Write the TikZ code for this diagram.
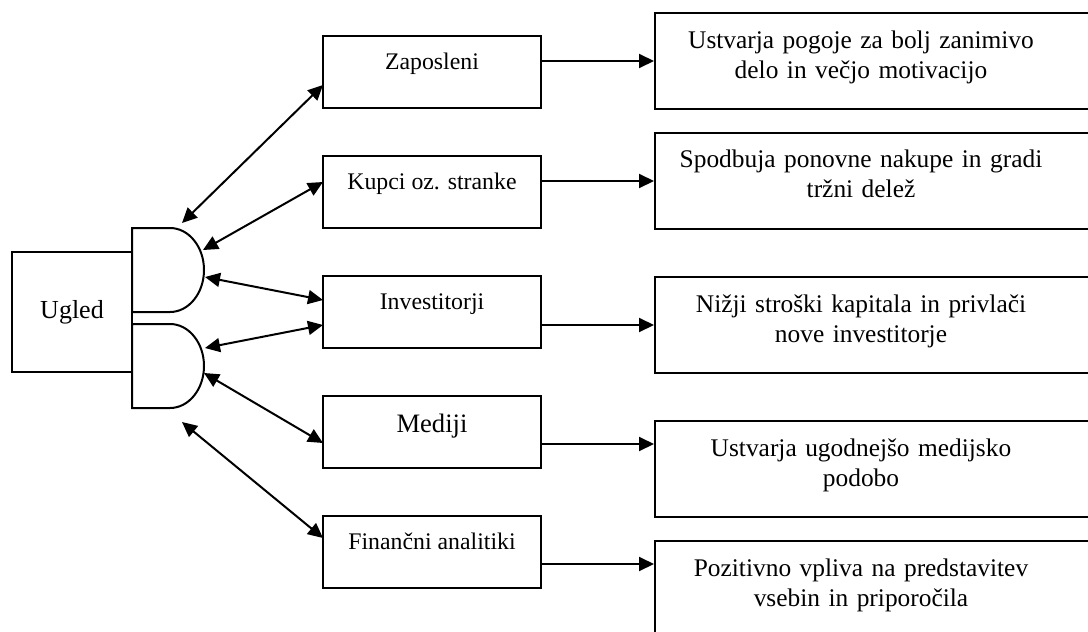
\documentclass[tikz,border=0pt]{standalone}
\usepackage{fontspec}
\setmainfont{Liberation Serif}
\usetikzlibrary{positioning,arrows.meta}

\begin{document}
\begin{tikzpicture}[x=1pt, y=-1pt, line width=2pt,
    ena/.style={-{Triangle[length=15pt,width=14pt]}},
    dva/.style={{Triangle[length=15pt,width=14pt]}-{Triangle[length=15pt,width=14pt]}},
    skupina/.style={draw, rectangle, outer sep=0pt, minimum width=218pt, minimum height=72pt, inner ysep=0pt, text height=33pt, text depth=39pt, font=\fontsize{23.8}{28}\selectfont},
    okvir/.style={draw, rectangle, anchor=north west, minimum width=460pt, minimum height=96pt},
    ucinek/.style={anchor=base, align=center, text width=440pt, inner sep=0pt, font=\fontsize{25.4}{30}\selectfont}]
        \useasboundingbox (0,0) rectangle (1088,632);
        \clip (0,0) rectangle (1088,632);

        \node[draw, rectangle, minimum width=120pt, minimum height=120pt, font=\fontsize{26}{30}\selectfont] (ugled) at (72,312) {Ugled};
        \draw (132,228) -- (170,228) arc[start angle=90, end angle=-90, x radius=34pt, y radius=42pt] -- (132,312) -- cycle;
        \draw (132,324) -- (170,324) arc[start angle=90, end angle=-90, x radius=34pt, y radius=42pt] -- (132,408) -- cycle;

        \node[skupina] (zap) at (432,72) {Zaposleni};
        \node[skupina, below=48pt of zap] (kup) {Kupci oz. stranke};
        \node[skupina, below=48pt of kup] (inv) {Investitorji};
        \node[skupina, below=48pt of inv, text height=36pt, text depth=36pt, font=\fontsize{26.6}{30}\selectfont] (med) {Mediji};
        \node[skupina, below=48pt of med] (fin) {Finančni analitiki};

        \node[okvir] (out1) at (654,12) {};
        \node[okvir] (out2) at (654,132) {};
        \node[okvir] (out3) at (654,276) {};
        \node[okvir] (out4) at (654,420) {};
        \node[okvir] (out5) at (654,540) {};
        \node[ucinek] (t1) at (861,48) {Ustvarja pogoje za bolj zanimivo\\delo in večjo motivacijo};
        \node[ucinek] (t2) at (861,167) {Spodbuja ponovne nakupe in gradi\\tržni delež};
        \node[ucinek] (t3) at (861,312) {Nižji stroški kapitala in privlači\\nove investitorje};
        \node[ucinek] (t4) at (861,456) {Ustvarja ugodnejšo medijsko\\podobo};
        \node[ucinek] (t5) at (861,576) {Pozitivno vpliva na predstavitev\\vsebin in priporočila};

        \coordinate (d1) at (182,223);
        \coordinate (d2) at (203,250);
        \coordinate (d3) at (205,277);
        \coordinate (d4) at (205,348);
        \coordinate (d5) at (204,373);
        \coordinate (d6) at (182,422);
        \coordinate (p4) at ([yshift=-24pt]out4.north west);
        \coordinate (p5) at ([yshift=-24pt]out5.north west);

        \draw[dva] (d1) -- ([yshift=-13pt]zap.west);
        \draw[dva] (d2) -- ([yshift=10pt]kup.west);
        \draw[dva] (d3) -- ([yshift=12pt]inv.west);
        \draw[dva] (d4) -- ([yshift=-13pt]inv.west);
        \draw[dva] (d5) -- ([yshift=-11pt]med.west);
        \draw[dva] (d6) -- ([yshift=14pt]fin.west);

        \draw[ena] (zap.east |- out1.west) -- (out1.west);
        \draw[ena] (kup.east |- out2.west) -- (out2.west);
        \draw[ena] (inv.east |- out3.west) -- (out3.west);
        \draw[ena] (med.east |- p4) -- (p4);
        \draw[ena] (fin.east |- p5) -- (p5);
    \end{tikzpicture}
\end{document}
